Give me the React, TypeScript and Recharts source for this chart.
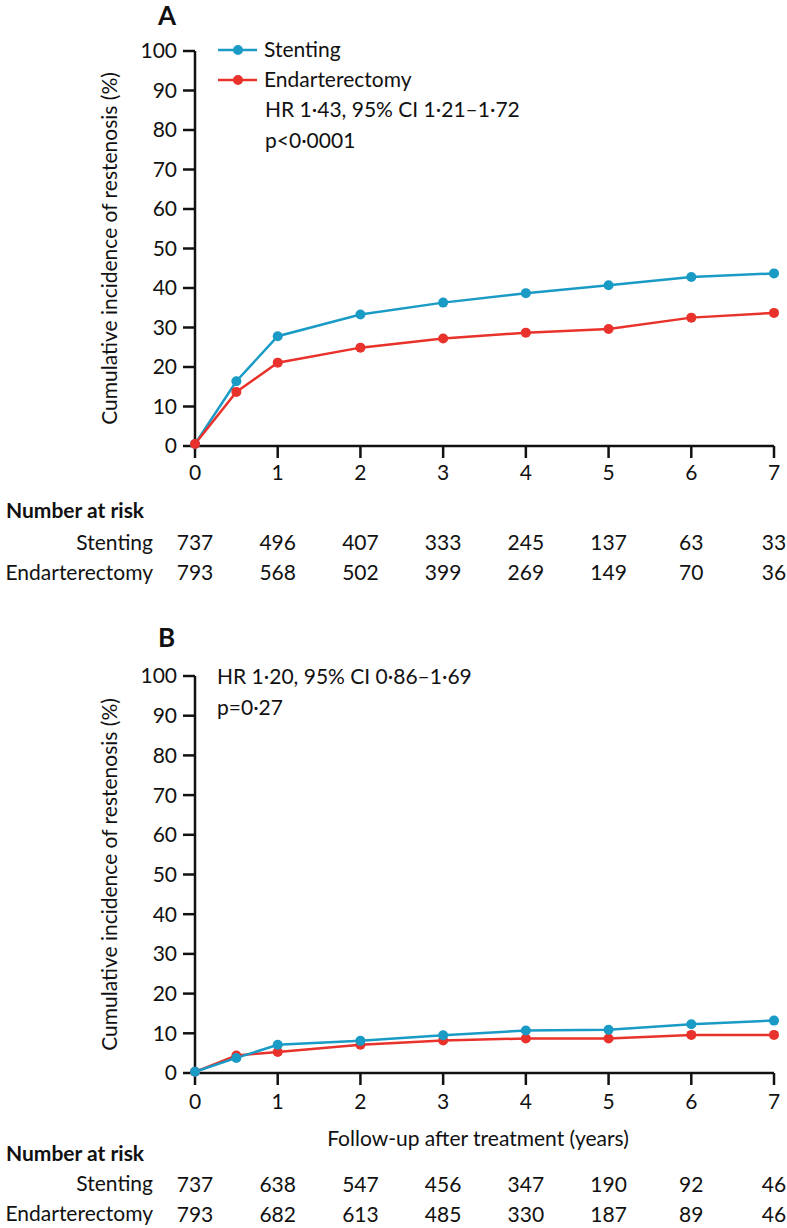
import React from "react";
import { LineChart, Line, XAxis, YAxis } from "recharts";

// follow-up time points (years)
const times = [0, 0.5, 1, 2, 3, 4, 5, 6, 7];
const yearTicks = [0, 1, 2, 3, 4, 5, 6, 7];
const yTicks = [0, 10, 20, 30, 40, 50, 60, 70, 80, 90, 100];

// panel A cumulative incidence (%)
const stentA = [0.5, 16.4, 27.8, 33.3, 36.3, 38.7, 40.7, 42.8, 43.7];
const endartA = [0.5, 13.7, 21.1, 24.9, 27.2, 28.7, 29.6, 32.5, 33.7];
// panel B cumulative incidence (%)
const stentB = [0.3, 3.8, 7.1, 8.1, 9.5, 10.7, 10.9, 12.3, 13.2];
const endartB = [0.3, 4.4, 5.3, 7.1, 8.2, 8.7, 8.7, 9.6, 9.6];

// number at risk at each year tick
const riskStentA = [737, 496, 407, 333, 245, 137, 63, 33];
const riskEndartA = [793, 568, 502, 399, 269, 149, 70, 36];
const riskStentB = [737, 638, 547, 456, 347, 190, 92, 46];
const riskEndartB = [793, 682, 613, 485, 330, 187, 89, 46];

const seriesNames = ["Stenting", "Endarterectomy"];

const BLUE = "#1a9bc6";
const RED = "#e8322b";
const FONT = "Lato, 'Open Sans', sans-serif";
const FS = 21;

const buildRows = (s: number[], e: number[]) =>
  times.map((t, i) => ({ t, stenting: s[i], endarterectomy: e[i] }));

type PanelProps = {
  top: number;
  height: number;
  marginTop: number;
  marginBottom: number;
  rows: { t: number; stenting: number; endarterectomy: number }[];
  riskS: number[];
  riskE: number[];
  tickDy: number;
  rowDy: [number, number];
  blueOnTop: boolean;
};

function Panel(p: PanelProps) {
  const RiskTick = (props: any) => {
    const { x, y, payload } = props;
    const i = yearTicks.indexOf(payload.value);
    return (
      <g fontFamily={FONT} fontSize={FS} fill="#111" textAnchor="middle">
        <text x={x} y={y + p.tickDy}>{payload.value}</text>
        <text x={x} y={y + p.rowDy[0]}>{p.riskS[i]}</text>
        <text x={x} y={y + p.rowDy[1]}>{p.riskE[i]}</text>
      </g>
    );
  };

  const blue = (
    <Line
      key="s"
      type="linear"
      dataKey="stenting"
      name={seriesNames[0]}
      stroke={BLUE}
      strokeWidth={2.5}
      dot={{ r: 5, fill: BLUE, stroke: BLUE, strokeWidth: 0 }}
      isAnimationActive={false}
    />
  );
  const red = (
    <Line
      key="e"
      type="linear"
      dataKey="endarterectomy"
      name={seriesNames[1]}
      stroke={RED}
      strokeWidth={2.5}
      dot={{ r: 5, fill: RED, stroke: RED, strokeWidth: 0 }}
      isAnimationActive={false}
    />
  );

  return (
    <div style={{ position: "absolute", left: 0, top: p.top }}>
      <LineChart
        width={787}
        height={p.height}
        data={p.rows}
        margin={{ top: p.marginTop, right: 13, left: 0, bottom: p.marginBottom }}
      >
        <XAxis
          dataKey="t"
          type="number"
          domain={[0, 7]}
          ticks={yearTicks}
          height={140}
          tickSize={12}
          tickMargin={0}
          axisLine={{ stroke: "#111", strokeWidth: 2.5 }}
          tickLine={{ stroke: "#111", strokeWidth: 2.5 }}
          tick={<RiskTick />}
          interval={0}
        />
        <YAxis
          type="number"
          domain={[0, 100]}
          ticks={yTicks}
          width={195}
          tickSize={12}
          tickMargin={6}
          interval={0}
          axisLine={{ stroke: "#111", strokeWidth: 2.5 }}
          tickLine={{ stroke: "#111", strokeWidth: 2.5 }}
          tick={{ fill: "#111", fontSize: FS, fontFamily: FONT }}
          label={{
            value: "Cumulative incidence of restenosis (%)",
            angle: -90,
            position: "center",
            dx: 12,
            style: { fill: "#111", fontSize: FS, fontFamily: FONT },
          }}
        />
        {p.blueOnTop ? [red, blue] : [blue, red]}
      </LineChart>
    </div>
  );
}

export default function App() {
  const txt = { fontFamily: FONT, fontSize: FS, fill: "#111" } as const;
  const legendItems = [
    { c: BLUE, label: seriesNames[0], y: 50 },
    { c: RED, label: seriesNames[1], y: 80 },
  ];
  return (
    <div
      style={{
        position: "absolute",
        left: 0,
        top: 0,
        width: 787,
        height: 1228,
        background: "#fff",
        overflow: "hidden",
      }}
    >
      <Panel
        top={0}
        height={600}
        marginTop={51}
        marginBottom={14}
        rows={buildRows(stentA, endartA)}
        riskS={riskStentA}
        riskE={riskEndartA}
        tickDy={22}
        rowDy={[92, 122]}
        blueOnTop={false}
      />
      <Panel
        top={600}
        height={628}
        marginTop={76}
        marginBottom={15}
        rows={buildRows(stentB, endartB)}
        riskS={riskStentB}
        riskE={riskEndartB}
        tickDy={24}
        rowDy={[107, 137]}
        blueOnTop={true}
      />
      <svg
        width={787}
        height={1228}
        style={{ position: "absolute", left: 0, top: 0, pointerEvents: "none" }}
      >
        <text x={158} y={25} fontFamily={FONT} fontSize={26} fontWeight={700} fill="#111">A</text>
        {legendItems.map((it) => (
          <g key={it.label}>
            <line x1={218} x2={257} y1={it.y} y2={it.y} stroke={it.c} strokeWidth={2.5} />
            <circle cx={238} cy={it.y} r={5} fill={it.c} />
            <text x={264} y={it.y + 7} {...txt}>{it.label}</text>
          </g>
        ))}
        <text x={265} y={117} {...txt}>HR 1·43, 95% CI 1·21–1·72</text>
        <text x={265} y={148} {...txt}>p&lt;0·0001</text>
        <text x={6} y={518} {...txt} fontWeight={700}>Number at risk</text>
        <text x={153} y={550} {...txt} textAnchor="end">Stenting</text>
        <text x={153} y={580} {...txt} textAnchor="end">Endarterectomy</text>

        <text x={158} y={647} fontFamily={FONT} fontSize={26} fontWeight={700} fill="#111">B</text>
        <text x={217} y={684} {...txt}>HR 1·20, 95% CI 0·86–1·69</text>
        <text x={217} y={715} {...txt}>p=0·27</text>
        <text x={478} y={1146} {...txt} textAnchor="middle">Follow-up after treatment (years)</text>
        <text x={6} y={1161} {...txt} fontWeight={700}>Number at risk</text>
        <text x={153} y={1191} {...txt} textAnchor="end">Stenting</text>
        <text x={153} y={1221} {...txt} textAnchor="end">Endarterectomy</text>
      </svg>
    </div>
  );
}
